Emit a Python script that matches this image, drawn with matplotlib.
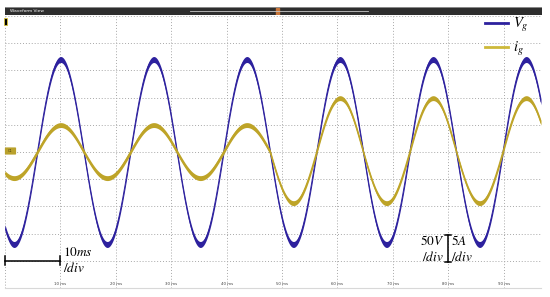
import numpy as np
import matplotlib
matplotlib.use("Agg")
import matplotlib.pyplot as plt
from matplotlib.patches import Rectangle, FancyBboxPatch

plt.rcParams['mathtext.fontset'] = 'stix'

# Values
time_window_ms = 96.75          # visible span of the capture
grid_freq_hz = 59.5             # from the peak-to-peak spacing
vg_first_peak_ms = 10.05        # first positive peak of Vg
vg_peak_v = 170.0               # Vg amplitude
# ig peak (A) of each half cycle, starting with the half cycle that holds t=0
ig_half_cycle_peaks = [4.8, 4.95, 4.8, 4.95, 4.8, 4.95, 9.4, 9.9, 9.4, 9.9, 9.4, 9.9]
vg_ripple_div = 0.11            # half thickness of the traces on screen
ig_ripple_div = 0.09
volt_per_div = 50.0
amp_per_div = 5.0
tick_ms = [10, 20, 30, 40, 50, 60, 70, 80, 90]
tick_labels = ['10 ms', '20 ms', '30 ms', '40 ms', '50 ms', '60 ms', '70 ms', '80 ms', '90 ms']

W, H = 550, 297
VG_COLOR = '#2d219e'
IG_COLOR = '#bea428'


def fx(px):
    return px / W


def fy(py):
    return 1 - py / H


def build_waves():
    t = np.linspace(0, time_window_ms, 5000)
    period = 1000.0 / grid_freq_hz
    phase = 2 * np.pi * (t - vg_first_peak_ms) / period + np.pi / 2
    vg = vg_peak_v * np.sin(phase)
    # half cycle index (0 = the one containing t=0)
    first_zero = vg_first_peak_ms - period / 4 - period / 2
    k = np.floor((t - first_zero) / (period / 2)).astype(int)
    k = np.clip(k, 0, len(ig_half_cycle_peaks) - 1)
    ig = np.array(ig_half_cycle_peaks)[k] * np.sin(phase)
    return t, vg, ig


def main():
    fig = plt.figure(figsize=(W / 100, H / 100), dpi=100)
    ax = fig.add_axes([fx(5), fy(288), fx(536), 272 / H])

    t, vg, ig = build_waves()
    vg_div = vg / volt_per_div
    ig_div = ig / amp_per_div

    ax.fill_between(t, vg_div - vg_ripple_div, vg_div + vg_ripple_div, color=VG_COLOR, lw=0, zorder=3)
    ax.plot(t, vg_div, color=VG_COLOR, lw=0.7, zorder=3)
    ax.fill_between(t, ig_div - ig_ripple_div, ig_div + ig_ripple_div, color=IG_COLOR, lw=0, zorder=4)
    ax.plot(t, ig_div, color=IG_COLOR, lw=1.0, zorder=4)

    # scope grid
    ax.set_xlim(0, time_window_ms)
    ax.set_ylim(-5, 5)
    ax.set_xticks(np.arange(0, 100, 10))
    ax.set_yticks(np.arange(-5, 6, 1))
    ax.grid(True, color='#a8a8a8', linestyle=(0, (1, 2)), lw=0.7)
    ax.tick_params(length=0, labelbottom=False, labelleft=False)
    for s in ['top', 'left', 'right']:
        ax.spines[s].set_visible(False)
    ax.spines['bottom'].set_color('#d8d8d8')
    for tk, lab in zip(tick_ms, tick_labels):
        ax.text(tk, -4.86, lab, fontsize=2.8, ha='center', va='center', color='#404040')

    # legend
    ax.legend([plt.Line2D([], [], color=VG_COLOR, lw=2), plt.Line2D([], [], color='#cdb93a', lw=2)],
              ['$V_g$', '$i_g$'], loc='upper left', bbox_to_anchor=(fx(485), fy(16)),
              bbox_transform=fig.transFigure, frameon=False, fontsize=10.5,
              handlelength=1.6, handletextpad=0.3, labelspacing=0.4, borderpad=0, borderaxespad=0)

    # title bar of the waveform view
    bar = fig.add_axes([fx(5), fy(15), fx(537), 8 / H])
    bar.set_facecolor('#2e2e2e')
    bar.set_xticks([])
    bar.set_yticks([])
    for s in bar.spines.values():
        s.set_visible(False)
    bar.set_xlim(0, 537)
    bar.set_ylim(0, 8)
    bar.axhline(7.6, color='#9a9a9a', lw=0.6)
    bar.plot([185, 363], [3.8, 3.8], color='#c8c8c8', lw=0.6)
    bar.text(5, 3.8, 'Waveform View', color='white', fontsize=3.2, va='center')
    bar.add_patch(Rectangle((271, 0.5), 3, 7, color='#c8763a'))

    # channel markers
    fig.patches.append(Rectangle((fx(4), fy(25)), 3 / W, 7 / H, transform=fig.transFigure,
                                 facecolor='black', edgecolor='#d8c23a', lw=0.6))
    fig.patches.append(FancyBboxPatch((fx(6), fy(154)), 9 / W, 6 / H, transform=fig.transFigure,
                                      boxstyle='round,pad=0.002', facecolor='#b9a12c', edgecolor='none'))
    fig.text(fx(10.5), fy(151), 'C1', fontsize=2.5, ha='center', va='center', color='#4a3f10')

    # time scale bar
    fig.lines.append(plt.Line2D([fx(5), fx(60)], [fy(260.5), fy(260.5)], color='black', lw=1.1,
                                transform=fig.transFigure))
    for xx in [5, 60]:
        fig.lines.append(plt.Line2D([fx(xx), fx(xx)], [fy(256), fy(265)], color='black', lw=1.1,
                                    transform=fig.transFigure))
    fig.text(fx(63), fy(252), '$10ms$', fontsize=9.5, va='center', ha='left')
    fig.text(fx(63), fy(268), '$/div$', fontsize=9.5, va='center', ha='left')

    # amplitude scale bar
    fig.lines.append(plt.Line2D([fx(448), fx(448)], [fy(235), fy(262)], color='black', lw=1.1,
                                transform=fig.transFigure))
    for yy in [235, 262]:
        fig.lines.append(plt.Line2D([fx(445), fx(451)], [fy(yy), fy(yy)], color='black', lw=1.1,
                                    transform=fig.transFigure))
    fig.text(fx(444), fy(241), '$50V$', fontsize=9.5, va='center', ha='right')
    fig.text(fx(444), fy(257), '$/div$', fontsize=9.5, va='center', ha='right')
    fig.text(fx(451), fy(241), '$5A$', fontsize=9.5, va='center', ha='left')
    fig.text(fx(451), fy(257), '$/div$', fontsize=9.5, va='center', ha='left')

    fig.savefig('out.png', dpi=100)


if __name__ == "__main__":
    main()
